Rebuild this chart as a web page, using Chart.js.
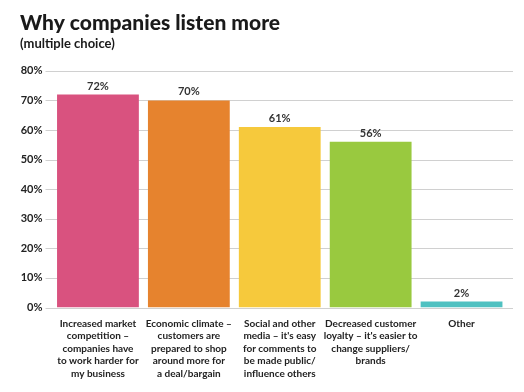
<!DOCTYPE html>
<html>
<head>
<meta charset="utf-8">
<script src="https://cdn.jsdelivr.net/npm/chart.js@4/dist/chart.umd.min.js"></script>
<style>
html,body{margin:0;padding:0;background:#fff;}
#wrap{width:524px;height:392px;position:relative;}
</style>
</head>
<body>
<div id="wrap"><canvas id="c" width="524" height="392"></canvas></div>
<script>
const categories = [
  ["Increased market","competition –","companies have","to work harder for","my business"],
  ["Economic climate –","customers are","prepared to shop","around more for","a deal/bargain"],
  ["Social and other","media – it's easy","for comments to","be made public/","influence others"],
  ["Decreased customer","loyalty – it's easier to","change suppliers/","brands"],
  ["Other"]
];
const values = [72, 70, 61, 56, 2];
const barColors = ["#d9527f", "#e6832e", "#f6c93c", "#99c93f", "#4fc1c1"];
const yTicks = [0, 10, 20, 30, 40, 50, 60, 70, 80];
const titleText = "Why companies listen more";
const subtitleText = "(multiple choice)";

const FONT = "Lato, 'Open Sans', sans-serif";

const gridPlugin = {
  id: 'extGrid',
  beforeDatasetsDraw(chart) {
    const {ctx, chartArea, scales} = chart;
    ctx.save();
    ctx.strokeStyle = '#d0d0d0';
    ctx.lineWidth = 1;
    yTicks.forEach(v => {
      const y = Math.round(scales.y.getPixelForValue(v)) + 0.5;
      ctx.beginPath();
      ctx.moveTo(chartArea.left - 7, y);
      ctx.lineTo(chartArea.right + 6, y);
      ctx.stroke();
    });
    ctx.restore();
  }
};

const labelPlugin = {
  id: 'valLabels',
  afterDatasetsDraw(chart) {
    const {ctx} = chart;
    const meta = chart.getDatasetMeta(0);
    ctx.save();
    ctx.fillStyle = '#333';
    ctx.font = "bold 11px " + FONT;
    ctx.textAlign = 'center';
    ctx.textBaseline = 'bottom';
    meta.data.forEach((bar, i) => {
      ctx.fillText(values[i] + '%', bar.x, bar.y - 3);
    });
    ctx.restore();
  }
};

new Chart(document.getElementById('c'), {
  type: 'bar',
  data: {
    labels: categories,
    datasets: [{
      data: values,
      backgroundColor: barColors,
      borderWidth: 0,
      barPercentage: 0.9,
      categoryPercentage: 1.0
    }]
  },
  options: {
    responsive: false,
    animation: false,
    devicePixelRatio: 1,
    layout: { padding: { left: 20, right: 17, top: 11, bottom: 2 } },
    plugins: {
      legend: { display: false },
      tooltip: { enabled: false },
      title: {
        display: true,
        text: titleText,
        align: 'start',
        color: '#1a1a1a',
        font: { family: FONT, size: 21, weight: '900' },
        padding: { top: 0, bottom: 0 }
      },
      subtitle: {
        display: true,
        text: subtitleText,
        align: 'start',
        color: '#1a1a1a',
        font: { family: FONT, size: 13, weight: 'bold' },
        padding: { top: 0, bottom: 19 }
      }
    },
    scales: {
      x: {
        grid: { display: false, drawTicks: false },
        border: { display: false },
        ticks: {
          color: '#222',
          font: { family: FONT, size: 10, weight: 'bold', lineHeight: 1.25 },
          padding: 10,
          maxRotation: 0,
          autoSkip: false
        }
      },
      y: {
        min: 0,
        max: 80,
        afterFit(scale) { scale.width = 32.5; },
        afterBuildTicks(scale) { scale.ticks = yTicks.map(v => ({ value: v })); },
        grid: { display: false, drawTicks: false },
        border: { display: false },
        ticks: {
          color: '#222',
          padding: 10,
          font: { family: FONT, size: 11, weight: 'bold' },
          callback: v => v + '%'
        }
      }
    }
  },
  plugins: [gridPlugin, labelPlugin]
});
</script>
</body>
</html>
